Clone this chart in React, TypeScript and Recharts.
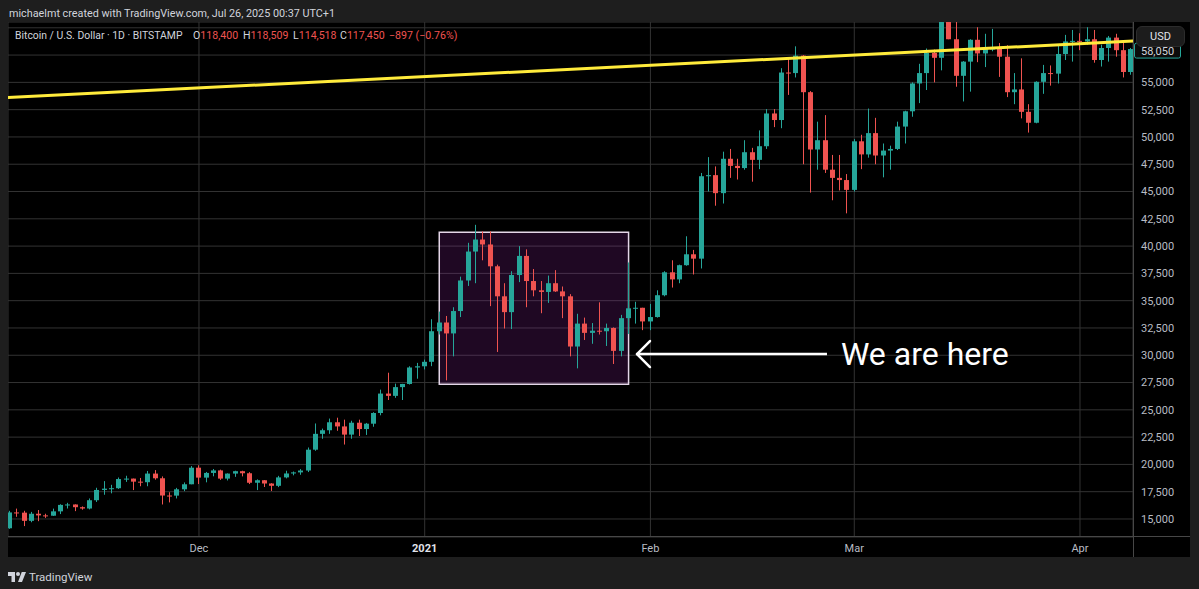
import React from "react";
import {
  ComposedChart, Bar, XAxis, YAxis, CartesianGrid, ReferenceArea, ReferenceLine, ReferenceDot,
} from "recharts";

// day index counted from 2020-11-01; first candle is 2020-11-05, one candle per day
const FIRST_DAY = 4;

// BTC/USD daily candles, Nov 5 2020 -> Apr 8 2021
const opens = [
  // Nov
  14150, 15600, 15580, 14830, 15480, 15330, 15300, 15700, 16290, 16330, 16080, 15960, 16720,
  17660, 17780, 17820, 18660, 18700, 18420, 18370, 19160, 18730, 17150, 17140, 17720, 18180,
  // Dec
  19700, 18790, 19220, 19450, 18700, 19160, 19380, 19190, 18320, 18550, 18250, 18040, 18810,
  19170, 19270, 19440, 21350, 22800, 23130, 23860, 23480, 22730, 23820, 23240, 23730, 24710,
  26490, 26280, 27080, 27370, 28880,
  // Jan
  28990, 29400, 32200, 33000, 32000, 34050, 36850, 39500, 40600, 40150, 38150, 35400, 33950,
  37350, 39100, 36800, 35950, 35800, 36600, 35850, 35400, 30800, 32900, 32050, 32250, 32200,
  32500, 30400, 33400, 34300, 34350,
  // Feb
  33100, 33500, 35500, 37600, 36950, 38250, 39250, 38850, 46400, 46500, 44850, 48000, 47350,
  47150, 48600, 47900, 49150, 52150, 51550, 55900, 55850, 57450, 54100, 48850, 49700, 47000,
  46250, 46050,
  // Mar
  45150, 49600, 48400, 50350, 48300, 48750, 48900, 50950, 52350, 54900, 55850, 57700, 57250,
  61200, 58950, 55600, 56900, 58900, 57650, 58050, 58100, 57350, 54100, 54350, 52300, 51300,
  55050, 55850, 55800, 57600, 58750,
  // Apr
  58800, 58750, 58950, 57050, 58150, 59100, 57950, 55950,
];
const highs = [
  15750, 15950, 15750, 15650, 15820, 15480, 15950, 16350, 16480, 16340, 16150, 16880, 17860,
  18470, 18130, 18800, 18960, 18700, 18760, 19400, 19480, 18900, 17450, 17850, 18350, 19850,
  19920, 19310, 19580, 19520, 19180, 19420, 19420, 19290, 18630, 18570, 18280, 18950, 19420,
  19350, 19570, 21550, 23750, 23280, 24200, 24280, 24100, 24000, 24100, 23800, 24780, 26850,
  28400, 27400, 27380, 28990, 29300,
  29600, 33300, 34000, 33600, 34400, 37200, 40300, 41950, 41350, 41350, 38300, 36600, 37700,
  40000, 39700, 37900, 36800, 37300, 37800, 36300, 35600, 33800, 33450, 32950, 34850, 32900,
  32550, 33700, 38500, 34900, 34350,
  34700, 35950, 37700, 38700, 38300, 40900, 39650, 46700, 48150, 47300, 48650, 48900, 48000,
  49700, 49000, 50600, 52550, 52550, 56300, 57300, 58300, 57500, 54200, 51400, 52000, 48350,
  48350, 46600,
  49800, 50200, 52600, 51750, 49400, 49200, 51400, 52400, 55000, 56700, 58100, 58000, 61800,
  61600, 60600, 56950, 58950, 60050, 59450, 59900, 58600, 58400, 55850, 57200, 53000, 55100,
  56600, 56550, 58350, 59350, 59800,
  59500, 60050, 59800, 58450, 59250, 59450, 58650, 58150,
];
const lows = [
  14100, 15200, 14350, 14700, 14800, 15100, 15280, 15450, 15960, 15720, 15850, 15880, 16560,
  17220, 17350, 17760, 18400, 17650, 18000, 18000, 18600, 16330, 16520, 16880, 17550, 18180,
  18200, 18360, 18910, 18580, 18530, 18860, 18900, 18200, 17650, 17930, 17570, 17920, 18720,
  19000, 19050, 19300, 21250, 22350, 22800, 23080, 21820, 22350, 22600, 22700, 23450, 24500,
  25900, 26100, 25900, 27320, 27850,
  28700, 29000, 31900, 27700, 29900, 33500, 36350, 36600, 38700, 34500, 30300, 32450, 32400,
  36700, 34400, 35400, 33850, 34800, 35800, 33400, 29900, 28800, 31400, 31050, 31900, 30850,
  29200, 29900, 31950, 32900, 32300,
  32300, 33450, 35400, 36200, 36600, 38200, 37400, 37950, 45000, 43700, 43900, 46250, 46100,
  47000, 45900, 47050, 48900, 50900, 50800, 53850, 55450, 47500, 44900, 47000, 46700, 44200,
  45100, 43000,
  45000, 47050, 48100, 47500, 46300, 47000, 48800, 49400, 51850, 53100, 54300, 55000, 56100,
  58950, 54600, 53250, 54150, 56850, 56400, 57850, 55500, 53650, 53000, 51700, 50400, 51250,
  53950, 54700, 54900, 57050, 56900,
  57950, 58450, 56800, 56450, 56900, 57350, 55450, 55700,
];
const closes = [
  15600, 15580, 14830, 15480, 15330, 15300, 15700, 16290, 16330, 16080, 15960, 16720, 17660,
  17780, 17820, 18660, 18700, 18420, 18370, 19160, 18730, 17150, 17140, 17720, 18180, 19700,
  18790, 19220, 19450, 18700, 19160, 19380, 19190, 18320, 18550, 18250, 18040, 18810, 19170,
  19270, 19440, 21350, 22800, 23130, 23860, 23480, 22730, 23820, 23240, 23730, 24710, 26490,
  26280, 27080, 27370, 28880, 28990,
  29400, 32200, 33000, 32000, 34050, 36850, 39500, 40600, 40150, 38150, 35400, 33950, 37350,
  39100, 36800, 35950, 35800, 36600, 35850, 35400, 30800, 32900, 32050, 32250, 32200, 32500,
  30400, 33400, 34300, 34350, 33100,
  33500, 35500, 37600, 36950, 38250, 39250, 38850, 46400, 46500, 44850, 48000, 47350, 47150,
  48600, 47900, 49150, 52150, 51550, 55900, 55850, 57450, 54100, 48850, 49700, 47000, 46250,
  46050, 45150,
  49600, 48400, 50350, 48300, 48750, 48900, 50950, 52350, 54900, 55850, 57700, 57250, 61200,
  58950, 55600, 56900, 58900, 57650, 58050, 58100, 57350, 54100, 54350, 52300, 51300, 55050,
  55850, 55800, 57600, 58750, 58800,
  58750, 58950, 57050, 58150, 59100, 57950, 55950, 58050,
];

const monthTicks = [30, 61, 92, 120, 151];
const monthLabels = ["Dec", "2021", "Feb", "Mar", "Apr"];
const priceTicks = [
  15000, 17500, 20000, 22500, 25000, 27500, 30000, 32500, 35000, 37500,
  40000, 42500, 45000, 47500, 50000, 52500, 55000, 57500, 60000,
];

// drawings, in chart (day, price) units
const trendLine = [{ x: 3, y: 53584 }, { x: 159, y: 58809 }];
const patternBox = { x1: 63, x2: 89, y1: 27340, y2: 41260 };
const arrowShaft = [{ x: 90.16, y: 30114 }, { x: 116.25, y: 30114 }];
const arrowHeadUp = [{ x: 90.16, y: 30114 }, { x: 91.94, y: 31305 }];
const arrowHeadDown = [{ x: 90.16, y: 30114 }, { x: 91.94, y: 28923 }];
const noteAt = { x: 118.17, y: 30114 };

const GREEN = "#26a69a";
const RED = "#ef5350";
const AXIS_TEXT = "#b8bcc4";

const candles = closes.map((c, i) => ({
  day: FIRST_DAY + i,
  o: opens[i],
  h: highs[i],
  l: lows[i],
  c,
  range: [lows[i], highs[i]],
}));
const last = candles[candles.length - 1];

const fmt = (v: number) => v.toLocaleString("en-US");

const Candle = (props: any) => {
  const { x, y, width, height, payload } = props;
  const { o, h, l, c } = payload;
  const color = c >= o ? GREEN : RED;
  const top = Math.min(y, y + height);
  const span = Math.abs(height);
  const k = h === l ? 0 : span / (h - l);
  const yO = top + (h - o) * k;
  const yC = top + (h - c) * k;
  const left = Math.round(x + width / 2 - 2.5);
  const bodyTop = Math.min(yO, yC);
  const bodyH = Math.max(1, Math.abs(yO - yC));
  return (
    <g>
      <line x1={left + 2.5} x2={left + 2.5} y1={top} y2={top + span} stroke={color} strokeWidth={1} />
      <rect x={left} y={bodyTop} width={5} height={bodyH} fill={color} />
    </g>
  );
};

const TimeTick = ({ x, y, payload }: any) => {
  const label = monthLabels[monthTicks.indexOf(payload.value)];
  const bold = label === "2021";
  return (
    <text x={x} y={y + 3} textAnchor="middle" dominantBaseline="central" fontSize={11}
          fill={bold ? "#e0e3eb" : AXIS_TEXT} fontWeight={bold ? 700 : 400}>
      {label}
    </text>
  );
};

const LastPriceTag = (props: any) => {
  const vb = props.viewBox;
  const x = vb.x + vb.width;
  return (
    <g>
      <rect x={x + 1.5} y={vb.y - 6} width={46} height={15} rx={2} fill="#0b0b0b" stroke={GREEN} />
      <text x={x + 8} y={vb.y + 2} dominantBaseline="central" fontSize={11} fill="#d1d4dc">{fmt(last.c)}</text>
    </g>
  );
};

const NoteText = (props: any) => {
  const vb = props.viewBox;
  return (
    <text x={vb.x} y={vb.y} dominantBaseline="central" fontSize={32} fill="#ffffff"
          style={{ fontFamily: "Roboto, sans-serif" }}>
      We are here
    </text>
  );
};

export default function App() {
  return (
    <div style={{
      position: "absolute", left: 0, top: 0, width: 1199, height: 589, overflow: "hidden",
      background: "#1e1e1e", fontFamily: "Roboto, 'Noto Sans', sans-serif",
    }}>
      <div style={{ position: "absolute", left: 9, top: 7, fontSize: 10.8, color: "#d1d4dc", whiteSpace: "nowrap" }}>
        michaelmt created with TradingView.com, Jul 26, 2025 00:37 UTC+1
      </div>

      <div style={{ position: "absolute", left: 8, top: 22, width: 1182, height: 535, background: "#000" }}>
        <ComposedChart width={1182} height={535} data={candles} margin={{ top: 0, right: 0, bottom: 0, left: 0 }}>
          <CartesianGrid stroke="#333333" />
          <XAxis dataKey="day" type="number" domain={[3.77, 158.28]} allowDataOverflow
                 ticks={monthTicks} interval={0} tick={<TimeTick />} tickLine={false} axisLine={false} height={20} />
          <YAxis orientation="right" type="number" domain={[13350, 60530]} allowDataOverflow
                 ticks={priceTicks} interval={0} width={57} tickLine={false} axisLine={false}
                 tick={{ fontSize: 11, fill: AXIS_TEXT }}
                 tickFormatter={(v: number) => (v > 55000 ? "" : fmt(v))} />
          <ReferenceArea x1={patternBox.x1} x2={patternBox.x2} y1={patternBox.y1} y2={patternBox.y2}
                         fill="#9c27b0" fillOpacity={0.2} stroke="#e4d6e8" strokeWidth={1.5} />
          <Bar dataKey="range" barSize={5} shape={Candle} isAnimationActive={false} />
          <ReferenceLine segment={trendLine} stroke="#ffeb3b" strokeWidth={3} ifOverflow="hidden" />
          <ReferenceLine segment={arrowShaft} stroke="#ffffff" strokeWidth={2.5} />
          <ReferenceLine segment={arrowHeadUp} stroke="#ffffff" strokeWidth={2.5} strokeLinecap="round" />
          <ReferenceLine segment={arrowHeadDown} stroke="#ffffff" strokeWidth={2.5} strokeLinecap="round" />
          <ReferenceDot x={noteAt.x} y={noteAt.y} r={0} fill="none" stroke="none" label={NoteText} />
          <ReferenceLine y={last.c} stroke="none" label={LastPriceTag} />
        </ComposedChart>

        <div style={{ position: "absolute", left: 0, top: 514, width: 1182, height: 1, background: "#474747" }} />
        <div style={{ position: "absolute", left: 1125, top: 0, width: 1, height: 535, background: "#474747" }} />
        <div style={{
          position: "absolute", left: 1128, top: 4, width: 49, height: 21, borderRadius: 6,
          background: "#1c1c1c", border: "1px solid #2c2c2c", boxSizing: "border-box",
          color: "#e0e3eb", fontSize: 11, display: "flex", alignItems: "center", justifyContent: "center",
        }}>USD</div>
      </div>

      <div style={{ position: "absolute", left: 8, top: 570, display: "flex", alignItems: "center", color: "#d1d4dc" }}>
        <svg width={18} height={10} viewBox="0 0 36 20">
          <path d="M14 20H7V8H0V0h14v20z" fill="#d1d4dc" />
          <circle cx={20} cy={4} r={4} fill="#d1d4dc" />
          <path d="M28 20h-8l7.5-20H36L28 20z" fill="#d1d4dc" />
        </svg>
        <span style={{ marginLeft: 3, fontSize: 11.5 }}>TradingView</span>
      </div>

      <div style={{ position: "absolute", left: 15, top: 29, fontSize: 10.4, color: "#d1d4dc", whiteSpace: "nowrap" }}>
        Bitcoin / U.S. Dollar · 1D · BITSTAMP
      </div>
      {[
        { left: 193, k: "O", v: "118,400" },
        { left: 243, k: "H", v: "118,509" },
        { left: 293, k: "L", v: "114,518" },
        { left: 340, k: "C", v: "117,450" },
      ].map((d) => (
        <div key={d.k} style={{ position: "absolute", left: d.left, top: 29, fontSize: 10.6, whiteSpace: "nowrap" }}>
          <span style={{ color: "#d1d4dc" }}>{d.k}</span>
          <span style={{ color: RED }}>{d.v}</span>
        </div>
      ))}
      <div style={{ position: "absolute", left: 389, top: 29, fontSize: 10.6, color: RED, whiteSpace: "nowrap" }}>
        −897 (−0.76%)
      </div>
    </div>
  );
}
